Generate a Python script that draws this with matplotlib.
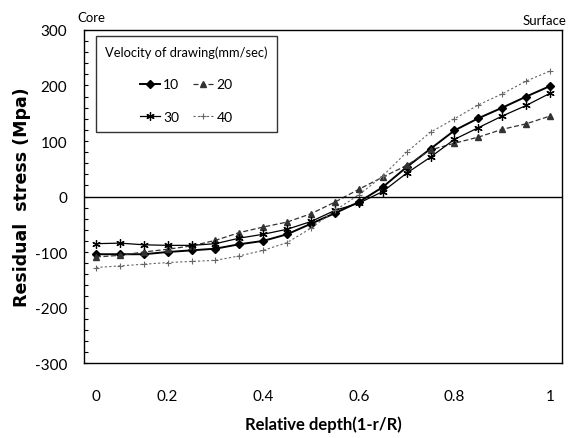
import matplotlib
matplotlib.use('Agg')
import matplotlib.pyplot as plt
from matplotlib.ticker import MultipleLocator

plt.rcParams['axes.unicode_minus'] = False

# relative depth categories (evenly spaced in the chart, Excel line chart)
depth_labels = ['0', '', '', '0.2', '', '', '', '0.4', '', '', '', '0.6',
                '', '', '', '0.8', '', '', '', '1']

v10 = [-104, -104, -104, -100, -97, -94, -86, -80, -68, -49,
       -30, -10, 17, 53, 86, 119, 141, 160, 180, 199]
v20 = [-109, -106, -100, -95, -89, -79, -65, -55, -46, -31,
       -10, 13, 35, 56, 84, 96, 107, 121, 131, 145]
v30 = [-85, -84, -87, -88, -88, -85, -75, -68, -59, -45,
       -25, -12, 9, 42, 71, 103, 124, 145, 164, 186]
v40 = [-128, -125, -122, -119, -117, -115, -107, -97, -83, -57,
       -25, 3, 37, 80, 116, 140, 165, 185, 208, 226]

x = list(range(len(depth_labels)))

fig = plt.figure(figsize=(5.81, 4.39), dpi=100)
ax = fig.add_axes([0.1446, 0.1708, 0.8227, 0.7586])

l10, = ax.plot(x, v10, color='black', lw=1.4, marker='D', ms=4.5, label='10')
l20, = ax.plot(x, v20, color='#333333', lw=0.9, ls=(0, (4, 2)), marker='^', ms=5,
               label='20')
l30, = ax.plot(x, v30, color='black', lw=0.9, marker=(6, 2, 0), ms=6, mew=0.9,
               label='30')
l40, = ax.plot(x, v40, color='#666666', lw=0.8, ls=(0, (2, 2)), marker='+', ms=5,
               mew=0.8, label='40')

ax.axhline(0, color='black', lw=1.0)

ax.set_xlim(-0.5, 19.5)
ax.set_ylim(-300, 300)
ax.yaxis.set_major_locator(MultipleLocator(100))
ax.yaxis.set_minor_locator(MultipleLocator(20))
ax.tick_params(axis='y', which='major', length=3, direction='in', width=0.8,
               labelsize=11, pad=12)
ax.tick_params(axis='y', which='minor', length=3, direction='in', width=0.8)
ax.set_xticks(x)
ax.set_xticklabels(depth_labels)
ax.tick_params(axis='x', length=0, labelsize=11, pad=19)
for lab in ax.get_xticklabels() + ax.get_yticklabels():
    lab.set_family('Lato')

for s in ax.spines.values():
    s.set_linewidth(1.0)

ax.set_ylabel('Residual  stress (Mpa)', fontsize=12.5, fontweight='bold',
              family='DejaVu Sans', labelpad=3)
ax.set_xlabel('Relative depth(1-r/R)', fontsize=12, fontweight='bold',
              family='Lato', labelpad=9)

fig.text(0.134, 0.96, 'Core', fontsize=9.5, family='Lato', ha='left', va='center')
fig.text(0.975, 0.952, 'Surface', fontsize=9.5, family='Lato', ha='right', va='center')

leg = ax.legend(handles=[l10, l30, l20, l40], ncol=2, loc='upper left',
                bbox_to_anchor=(0.025, 0.982), borderaxespad=0,
                title='Velocity of drawing(mm/sec)',
                frameon=True, fancybox=False, edgecolor='black',
                prop={'family': 'Lato', 'size': 10}, handlelength=1.45,
                handletextpad=0.25, columnspacing=1.0, borderpad=0.65,
                labelspacing=1.5)
leg.get_frame().set_linewidth(1.0)
leg.get_title().set_family('Lato')
leg.get_title().set_fontsize(9.3)

fig.savefig('out.png', dpi=100)
